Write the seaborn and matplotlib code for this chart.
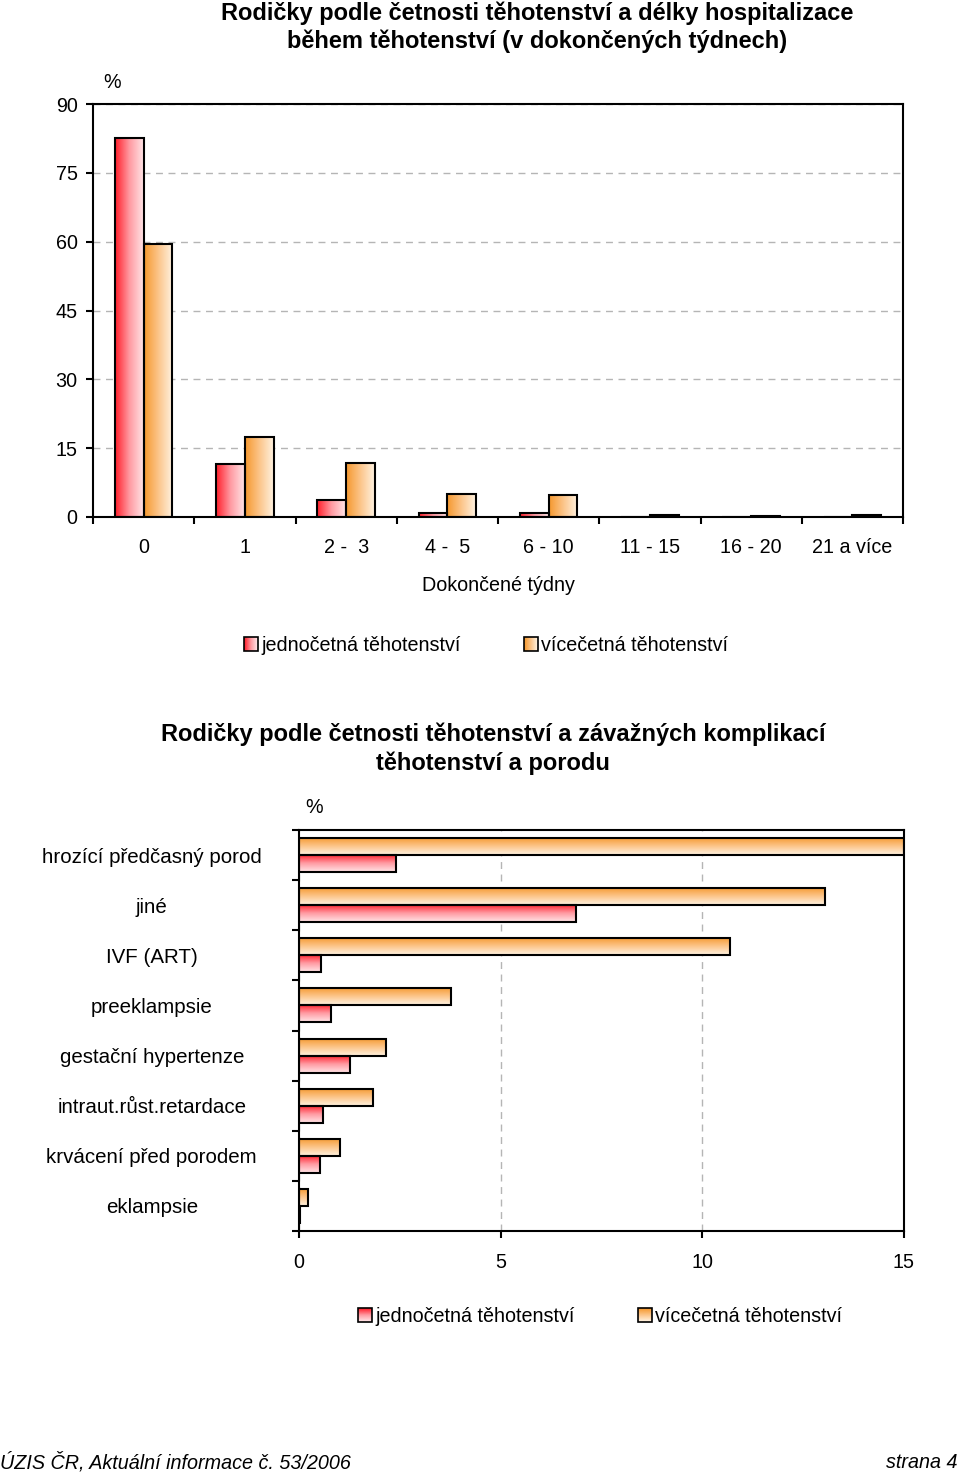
import numpy as np
import pandas as pd
import matplotlib
matplotlib.use("Agg")
import matplotlib.pyplot as plt
import seaborn as sns
from matplotlib.colors import LinearSegmentedColormap
from matplotlib.patches import Rectangle
from matplotlib.legend_handler import HandlerBase

SINGLE = "jednočetná těhotenství"
MULTI = "vícečetná těhotenství"

# hospitalizace (dokoncene tydny), %
weeks = ["0", "1", "2 -  3", "4 -  5", "6 - 10", "11 - 15", "16 - 20", "21 a více"]
weeks_single = [82.6, 11.5, 3.7, 0.9, 0.9, 0.1, 0.05, 0.05]
weeks_multi = [59.5, 17.4, 11.8, 5.0, 4.8, 0.5, 0.3, 0.4]

# zavazne komplikace, %
complications = ["hrozící předčasný porod", "jiné", "IVF (ART)", "preeklampsie",
                 "gestační hypertenze", "intraut.růst.retardace",
                 "krvácení před porodem", "eklampsie"]
compl_single = [2.4, 6.87, 0.55, 0.79, 1.26, 0.6, 0.52, 0.02]
compl_multi = [15.0, 13.04, 10.69, 3.77, 2.16, 1.83, 1.02, 0.22]

RED = "#ff1e2a"
ORANGE = "#f5982e"
cmap_single = LinearSegmentedColormap.from_list("single", [RED, "#ff9aa2", "#ffe6e8"])
cmap_multi = LinearSegmentedColormap.from_list("multi", [ORANGE, "#fcc58a", "#fff3e2"])

FS = 14.2


class GradientHandler(HandlerBase):
    def __init__(self, cmap, vertical=False):
        super().__init__()
        self.cmap = cmap
        self.vertical = vertical

    def create_artists(self, legend, orig_handle, xdescent, ydescent, width, height, fontsize, trans):
        n = 14
        arts = []
        for i in range(n):
            c = self.cmap(i / (n - 1))
            if self.vertical:
                r = Rectangle((-xdescent, -ydescent + height - (i + 1) * height / n), width, height / n,
                              facecolor=c, lw=0, transform=trans)
            else:
                r = Rectangle((-xdescent + i * width / n, -ydescent), width / n, height,
                              facecolor=c, lw=0, transform=trans)
            arts.append(r)
        arts.append(Rectangle((-xdescent, -ydescent), width, height, fill=False,
                              edgecolor="black", lw=1.2, transform=trans))
        return arts


def gradient_bars(ax, vertical):
    xlim, ylim = ax.get_xlim(), ax.get_ylim()
    for patch in list(ax.patches):
        fc = patch.get_facecolor()
        cmap = cmap_single if fc[1] < 0.3 else cmap_multi
        x0, y0 = patch.get_x(), patch.get_y()
        w, h = patch.get_width(), patch.get_height()
        if vertical:
            grad = np.linspace(0, 1, 256).reshape(-1, 1)
        else:
            grad = np.linspace(0, 1, 256).reshape(1, -1)
        ax.imshow(grad, extent=[x0, x0 + w, y0, y0 + h], origin="lower",
                  aspect="auto", cmap=cmap, zorder=1, interpolation="bilinear")
        patch.set_facecolor("none")
        patch.set_zorder(2)
    ax.set_xlim(xlim)
    ax.set_ylim(ylim)


def style_box(ax):
    for s in ax.spines.values():
        s.set_visible(True)
        s.set_color("black")
        s.set_linewidth(1.5)


sns.set_theme(style="ticks")
plt.rcParams["font.family"] = ["Liberation Sans", "DejaVu Sans"]
plt.rcParams["font.size"] = FS
plt.rcParams["text.color"] = "black"
plt.rcParams["axes.labelcolor"] = "black"
plt.rcParams["xtick.color"] = "black"
plt.rcParams["ytick.color"] = "black"

fig = plt.figure(figsize=(9.6, 14.74), dpi=100)
palette = {SINGLE: RED, MULTI: ORANGE}

# ---- graf 1: delka hospitalizace
ax1 = fig.add_axes([93 / 960, 1 - 517 / 1474, 810 / 960, 413 / 1474])
df1 = pd.DataFrame({
    "week": weeks * 2,
    "pct": weeks_single + weeks_multi,
    "type": [SINGLE] * len(weeks) + [MULTI] * len(weeks),
})
sns.barplot(data=df1, x="week", y="pct", hue="type", order=weeks, hue_order=[SINGLE, MULTI],
            palette=palette, width=0.57, saturation=1, edgecolor="black", linewidth=1.5,
            legend=False, ax=ax1)
ax1.set_xlim(-0.5, 7.5)
ax1.set_ylim(0, 90)
ax1.set_yticks(range(0, 91, 15))
ax1.set_xticks(np.arange(-0.5, 8, 1), minor=True)
ax1.tick_params(axis="x", which="major", length=0, pad=15, labelsize=FS)
ax1.tick_params(axis="x", which="minor", length=5, width=1.5, direction="out")
ax1.tick_params(axis="y", length=5, width=1.5, direction="out", pad=6, labelsize=FS)
ax1.yaxis.grid(True, linestyle=(0, (5, 4)), color="#b5b5b5", linewidth=1)
ax1.set_axisbelow(True)
ax1.set_ylabel("")
ax1.set_xlabel("Dokončené týdny", fontsize=FS, labelpad=14)
style_box(ax1)
gradient_bars(ax1, vertical=False)
fig.text(112 / 960, 1 - 83 / 1474, "%", ha="center", va="center", fontsize=FS)
fig.text(537 / 960, 1 - 27.5 / 1474,
         "Rodičky podle četnosti těhotenství a délky hospitalizace\nběhem těhotenství (v dokončených týdnech)",
         ha="center", va="center", fontsize=17, fontweight="bold", linespacing=1.27)

h1 = Rectangle((0, 0), 1, 1)
h2 = Rectangle((0, 0), 1, 1)
fig.legend(handles=[h1, h2], labels=[SINGLE, MULTI], loc="center",
           bbox_to_anchor=(486 / 960, 1 - 645 / 1474), ncol=2, frameon=False,
           handlelength=0.72, handleheight=0.72, handletextpad=0.15, columnspacing=3.2,
           fontsize=FS,
           handler_map={h1: GradientHandler(cmap_single), h2: GradientHandler(cmap_multi)})

# ---- graf 2: zavazne komplikace
ax2 = fig.add_axes([299 / 960, 1 - 1231 / 1474, 605 / 960, 401 / 1474])
df2 = pd.DataFrame({
    "cause": complications * 2,
    "pct": compl_single + compl_multi,
    "type": [SINGLE] * len(complications) + [MULTI] * len(complications),
})
sns.barplot(data=df2, x="pct", y="cause", hue="type", order=complications, hue_order=[MULTI, SINGLE],
            orient="h", palette=palette, width=0.68, saturation=1, edgecolor="black", linewidth=1.5,
            legend=False, ax=ax2)
ax2.set_xlim(0, 15)
ax2.set_ylim(7.5, -0.5)
ax2.set_xticks([0, 5, 10, 15])
ax2.set_yticks(np.arange(-0.5, 8, 1), minor=True)
ax2.tick_params(axis="y", which="major", length=0, pad=106, labelsize=14.8)
ax2.tick_params(axis="y", which="minor", length=5, width=1.5, direction="out")
ax2.tick_params(axis="x", length=5, width=1.5, direction="out", pad=11, labelsize=FS)
for lab in ax2.get_yticklabels():
    lab.set_ha("center")
ax2.xaxis.grid(True, linestyle=(0, (5, 4)), color="#b5b5b5", linewidth=1)
ax2.set_axisbelow(True)
ax2.set_xlabel("")
ax2.set_ylabel("")
style_box(ax2)
gradient_bars(ax2, vertical=True)
fig.text(314 / 960, 1 - 808 / 1474, "%", ha="center", va="center", fontsize=FS)
fig.text(493 / 960, 1 - 748.5 / 1474,
         "Rodičky podle četnosti těhotenství a závažných komplikací\ntěhotenství a porodu",
         ha="center", va="center", fontsize=17, fontweight="bold", linespacing=1.3)

h3 = Rectangle((0, 0), 1, 1)
h4 = Rectangle((0, 0), 1, 1)
fig.legend(handles=[h3, h4], labels=[SINGLE, MULTI], loc="center",
           bbox_to_anchor=(600 / 960, 1 - 1316 / 1474), ncol=2, frameon=False,
           handlelength=0.72, handleheight=0.72, handletextpad=0.15, columnspacing=3.2,
           fontsize=FS,
           handler_map={h3: GradientHandler(cmap_single, vertical=True),
                        h4: GradientHandler(cmap_multi, vertical=True)})

# ---- paticka
fig.text(0.0, 1 - 1462 / 1474, "ÚZIS ČR, Aktuální informace č. 53/2006", ha="left", va="center",
         fontsize=FS, fontstyle="italic")
fig.text(958 / 960, 1 - 1462 / 1474, "strana 4", ha="right", va="center",
         fontsize=FS, fontstyle="italic")

fig.savefig("out.png", dpi=100)
